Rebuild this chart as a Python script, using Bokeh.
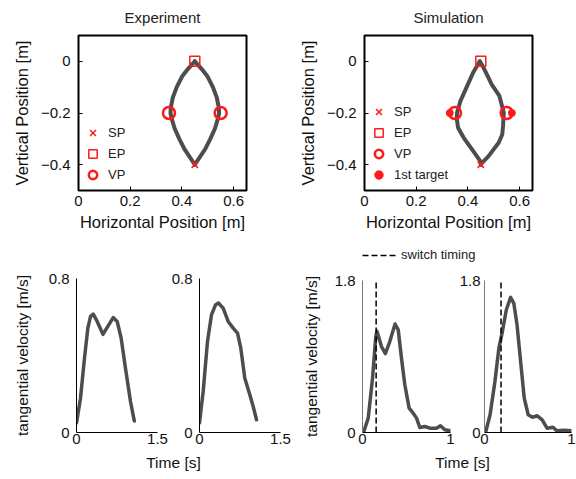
from bokeh.plotting import figure
from bokeh.layouts import row, column
from bokeh.models import Range1d, FixedTicker, Legend, LegendItem
from bokeh.embed import file_html
from bokeh.resources import INLINE

FONT = "Liberation Sans"
GRAY = "#4d4d4d"
RED = "#ff1a1a"

# ---------------- data ----------------
titles = ["Experiment", "Simulation"]
pos_x_ticks = [0, 0.2, 0.4, 0.6]
pos_y_ticks = [-0.4, -0.2, 0]
pos_y_labels = {-0.4: "\u22120.4", -0.2: "\u22120.2", 0: "0"}

sp_x, sp_y = [0.45], [-0.40]
ep_x, ep_y = [0.45], [0.0]
vp_x, vp_y = [0.35, 0.55], [-0.2, -0.2]
first_target_x, first_target_y = [0.33, 0.57], [-0.2, -0.2]

exp_left_x = [0.45, 0.43, 0.41, 0.39, 0.372, 0.360, 0.356, 0.357, 0.365, 0.38, 0.40, 0.423, 0.45]
exp_left_y = [-0.40, -0.37, -0.34, -0.30, -0.26, -0.22, -0.20, -0.18, -0.14, -0.10, -0.06, -0.03, 0.0]
exp_right_x = [0.45, 0.47, 0.49, 0.51, 0.528, 0.54, 0.544, 0.543, 0.535, 0.52, 0.50, 0.477, 0.45]
exp_right_y = [-0.40, -0.37, -0.34, -0.30, -0.26, -0.22, -0.20, -0.18, -0.14, -0.10, -0.06, -0.03, 0.0]

sim_left_x = [0.45, 0.448, 0.416, 0.384, 0.362, 0.357, 0.358, 0.371, 0.397, 0.42, 0.446]
sim_left_y = [-0.40, -0.386, -0.341, -0.296, -0.257, -0.22, -0.199, -0.154, -0.096, -0.044, 0.0]
sim_right_x = [0.45, 0.455, 0.48, 0.519, 0.533, 0.536, 0.539, 0.522, 0.492, 0.461, 0.446]
sim_right_y = [-0.40, -0.393, -0.367, -0.315, -0.283, -0.25, -0.199, -0.134, -0.089, -0.025, 0.0]

exp_t1 = [0, 0.074, 0.148, 0.21, 0.26, 0.31, 0.383, 0.49, 0.58, 0.68, 0.753, 0.827, 0.907, 1.0, 1.07]
exp_v1 = [0.05, 0.178, 0.386, 0.542, 0.603, 0.615, 0.577, 0.51, 0.551, 0.597, 0.577, 0.49, 0.334, 0.161, 0.06]
exp_t2 = [0, 0.068, 0.148, 0.222, 0.296, 0.35, 0.438, 0.531, 0.624, 0.704, 0.765, 0.839, 0.932, 0.994, 1.056]
exp_v2 = [0.05, 0.213, 0.473, 0.611, 0.663, 0.673, 0.646, 0.577, 0.542, 0.516, 0.438, 0.282, 0.196, 0.135, 0.066]

sim_t1 = [0.0, 0.015, 0.065, 0.114, 0.151, 0.165, 0.216, 0.26, 0.31, 0.37, 0.406, 0.443, 0.481,
          0.53, 0.576, 0.614, 0.651, 0.708, 0.765, 0.84, 0.886, 0.935, 1.0]
sim_v1 = [0.0, 0.012, 0.17, 0.643, 1.137, 1.2, 1.018, 0.935, 1.077, 1.285, 1.216, 0.88, 0.565,
          0.288, 0.229, 0.17, 0.059, 0.071, 0.051, 0.051, 0.079, 0.032, 0.02]
sim_t2 = [0.0, 0.015, 0.064, 0.12, 0.165, 0.202, 0.251, 0.30, 0.337, 0.374, 0.419, 0.457, 0.502,
          0.551, 0.607, 0.663, 0.719, 0.787, 0.831, 0.906, 1.0]
sim_v2 = [0.0, 0.012, 0.21, 0.604, 0.998, 1.176, 1.453, 1.6, 1.53, 1.275, 0.801, 0.406, 0.21,
          0.181, 0.198, 0.15, 0.051, 0.063, 0.02, 0.027, 0.02]
switch_times = [0.155, 0.19]

exp_tmax, exp_vmax = 1.5, 0.8
sim_tmax, sim_vmax = 1.0, 1.8


def style_axes(p, label_size="15.5px"):
    for ax in p.axis:
        ax.major_label_text_font = FONT
        ax.major_label_text_font_size = "15px"
        ax.major_label_text_color = "#111111"
        ax.axis_label_text_font = FONT
        ax.axis_label_text_font_size = label_size
        ax.axis_label_text_font_style = "normal"
        ax.axis_label_text_color = "#111111"
        ax.minor_tick_line_color = None
    p.grid.visible = False


def traj_fig(title, left, right, lx, ly, rx, ry, with_target):
    p = figure(frame_width=168, frame_height=155, x_range=Range1d(0, 0.65), y_range=Range1d(-0.5, 0.1),
               min_border_left=left, min_border_right=right, min_border_top=34, min_border_bottom=56,
               output_backend="svg", toolbar_location=None, title=title)
    p.title.align = "center"
    p.title.vertical_align = "top"
    p.title.text_font = FONT
    p.title.text_font_size = "15px"
    p.title.text_font_style = "normal"
    p.title.text_color = "#222222"
    p.title.standoff = 16
    p.outline_line_color = "black"
    p.outline_line_width = 2
    p.line(lx, ly, line_color=GRAY, line_width=4, line_join="round", line_cap="round")
    p.line(rx, ry, line_color=GRAY, line_width=4, line_join="round", line_cap="round")
    items = []
    r_sp = p.scatter(sp_x, sp_y, marker="x", size=9, line_color=RED, line_width=1.5)
    r_ep = p.scatter(ep_x, ep_y, marker="square", size=10, line_color=RED, fill_color=None, line_width=1.5)
    r_vp = p.scatter(vp_x, vp_y, marker="circle", size=12, line_color=RED, fill_color=None, line_width=2.5)
    items += [LegendItem(label="SP", renderers=[r_sp]), LegendItem(label="EP", renderers=[r_ep]),
              LegendItem(label="VP", renderers=[r_vp])]
    if with_target:
        r_ft = p.scatter(first_target_x, first_target_y, marker="circle", size=7, line_color=RED,
                         fill_color=RED)
        items.append(LegendItem(label="1st target", renderers=[r_ft]))
    leg = Legend(items=items, location=(4, 5), padding=0, margin=0, spacing=0,
                 glyph_width=21, glyph_height=21, label_height=21, label_standoff=5,
                 label_text_font=FONT, label_text_font_size="13px", label_text_color="#222222",
                 border_line_color=None, background_fill_alpha=0)
    p.add_layout(leg)
    p.xaxis.ticker = FixedTicker(ticks=pos_x_ticks)
    p.yaxis.ticker = FixedTicker(ticks=pos_y_ticks)
    p.yaxis.major_label_overrides = pos_y_labels
    p.xaxis.axis_label = "Horizontal Position [m]"
    p.yaxis.axis_label = "Vertical Position [m]"
    style_axes(p, "16.5px")
    for ax in p.axis:
        ax.major_tick_in = 4
        ax.major_tick_out = 0
        ax.major_tick_line_color = "black"
        ax.axis_line_color = None
    p.xaxis.major_label_standoff = 5
    p.xaxis.axis_label_standoff = 4
    p.yaxis.major_label_standoff = 8
    p.yaxis.axis_label_standoff = 7
    return p


def vel_fig(t, v, tmax, vmax, left, right, top, fw, fh, ylabel=None, ylab_standoff=13,
            ycolor="black", label_standoff=7, switch=None):
    p = figure(frame_width=fw, frame_height=fh, x_range=Range1d(0, tmax), y_range=Range1d(0, vmax),
               min_border_left=left, min_border_right=right, min_border_top=top,
               min_border_bottom=20, output_backend="svg", toolbar_location=None)
    p.outline_line_color = None
    p.line(t, v, line_color=GRAY, line_width=3.5, line_join="round", line_cap="round")
    if switch is not None:
        p.line([switch, switch], [0, vmax], line_color="black", line_width=1.5, line_dash="6 3")
    p.xaxis.ticker = FixedTicker(ticks=[0, tmax])
    p.yaxis.ticker = FixedTicker(ticks=[0, vmax])
    if ylabel:
        p.yaxis.axis_label = ylabel
    style_axes(p)
    for ax in p.axis:
        ax.major_tick_line_color = None
        ax.major_tick_in = 0
        ax.major_tick_out = 0
        ax.axis_line_width = 1
    p.xaxis.axis_line_color = "black"
    p.yaxis.axis_line_color = ycolor
    p.xaxis.major_label_standoff = 1
    p.yaxis.major_label_standoff = label_standoff
    p.yaxis.axis_label_standoff = ylab_standoff
    return p


def label_fig(width, left, text):
    p = figure(frame_width=100, frame_height=1, x_range=Range1d(0, 1), y_range=Range1d(0, 1),
               min_border_left=left, min_border_right=width - left - 100, min_border_top=0,
               min_border_bottom=19, output_backend="svg", toolbar_location=None)
    p.outline_line_color = None
    p.yaxis.visible = False
    p.xaxis.ticker = FixedTicker(ticks=[])
    p.xaxis.axis_label = text
    style_axes(p)
    p.xaxis.axis_line_color = None
    p.xaxis.major_tick_line_color = None
    p.xaxis.axis_label_standoff = 0
    return p


def switch_legend_fig(width, height, glyph_left, bottom_gap):
    # strip above the simulation velocity panels that only carries the "switch timing" key
    p = figure(frame_width=width, frame_height=height, x_range=Range1d(0, 1), y_range=Range1d(0, 1),
               min_border_left=0, min_border_right=0, min_border_top=0, min_border_bottom=0,
               x_axis_location=None, y_axis_location=None, output_backend="svg", toolbar_location=None)
    p.outline_line_color = None
    p.grid.visible = False
    key = p.line([switch_times[0], switch_times[0]], [0, sim_vmax], line_color="black", line_width=1.5,
                 line_dash="6 3", visible=False)
    leg = Legend(items=[LegendItem(label="switch timing", renderers=[key])], location=(glyph_left, bottom_gap),
                 padding=0, margin=0, glyph_width=34, glyph_height=14, label_height=14, label_standoff=5,
                 label_text_font=FONT, label_text_font_size="13px", label_text_color="#222222",
                 border_line_color=None, background_fill_alpha=0, inactive_fill_alpha=0,
                 click_policy="none")
    p.add_layout(leg)
    return p


pA = traj_fig(titles[0], 78, 40, exp_left_x, exp_left_y, exp_right_x, exp_right_y, False)
pB = traj_fig(titles[1], 78, 20, sim_left_x, sim_left_y, sim_right_x, sim_right_y, True)

pC = vel_fig(exp_t1, exp_v1, exp_tmax, exp_vmax, 76, 11, 32, 81, 154,
             ylabel="tangential velocity [m/s]", ylab_standoff=15)
pD = vel_fig(exp_t2, exp_v2, exp_tmax, exp_vmax, 30, 14, 32, 81, 154)
pE = vel_fig(sim_t1, sim_v1, sim_tmax, sim_vmax, 68, 6, 14, 88, 152,
             ylabel="tangential velocity [m/s]", ylab_standoff=12, ycolor="#7a7a7a", switch=switch_times[0])
pF = vel_fig(sim_t2, sim_v2, sim_tmax, sim_vmax, 26, 8, 14, 87, 152, ycolor="#7a7a7a",
             label_standoff=4, switch=switch_times[1])

sw = switch_legend_fig(283, 20, 68, 4)

tC = label_fig(293, 123, "Time [s]")
tE = label_fig(283, 118, "Time [s]")

layout = column(
    row(pA, pB, spacing=0),
    row(column(row(pC, pD, spacing=0), tC, spacing=0),
        column(sw, row(pE, pF, spacing=0), tE, spacing=0), spacing=0),
    spacing=0,
)

with open("out.html", "w") as f:
    f.write(file_html(layout, INLINE))
